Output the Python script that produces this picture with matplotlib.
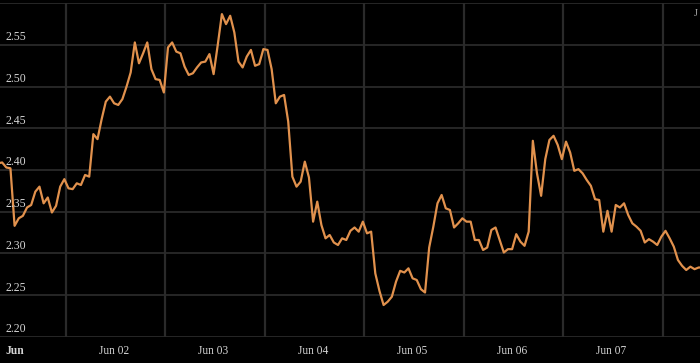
import matplotlib
matplotlib.use("Agg")
import matplotlib.pyplot as plt
import matplotlib.dates as mdates
import matplotlib.transforms as mtransforms
import pandas as pd
import numpy as np

# hourly readings starting 2024-05-31 20:00
start_time = "2024-05-31 20:00"
values = [
    2.408, 2.409, 2.403, 2.402, 2.333, 2.342, 2.345, 2.355, 2.358, 2.374,
    2.380, 2.360, 2.367, 2.349, 2.357, 2.380, 2.389, 2.378, 2.377, 2.384,
    2.382, 2.394, 2.392, 2.443, 2.437, 2.461, 2.482, 2.488, 2.480, 2.478,
    2.485, 2.500, 2.517, 2.553, 2.528, 2.540, 2.553, 2.521, 2.509, 2.508,
    2.493, 2.547, 2.553, 2.542, 2.540, 2.524, 2.514, 2.516, 2.523, 2.529,
    2.530, 2.539, 2.515, 2.550, 2.587, 2.575, 2.585, 2.565, 2.530, 2.523,
    2.536, 2.544, 2.525, 2.527, 2.545, 2.544, 2.521, 2.480, 2.488, 2.490,
    2.458, 2.392, 2.380, 2.386, 2.410, 2.391, 2.338, 2.362, 2.334, 2.318,
    2.322, 2.313, 2.310, 2.318, 2.316, 2.327, 2.331, 2.326, 2.338, 2.324,
    2.326, 2.276, 2.255, 2.238, 2.242, 2.248, 2.266, 2.279, 2.277, 2.282,
    2.270, 2.268, 2.257, 2.253, 2.307, 2.332, 2.360, 2.370, 2.354, 2.352,
    2.331, 2.336, 2.342, 2.338, 2.338, 2.316, 2.316, 2.304, 2.307, 2.328,
    2.331, 2.316, 2.301, 2.305, 2.305, 2.323, 2.314, 2.309, 2.326, 2.435,
    2.396, 2.369, 2.413, 2.436, 2.441, 2.430, 2.413, 2.434, 2.421, 2.399,
    2.401, 2.396, 2.388, 2.381, 2.365, 2.364, 2.326, 2.351, 2.326, 2.358,
    2.355, 2.360, 2.346, 2.336, 2.332, 2.327, 2.313, 2.317, 2.314, 2.310,
    2.320, 2.327, 2.318, 2.308, 2.292, 2.285, 2.280, 2.284, 2.281, 2.283,
    2.283,
]
times = pd.date_range(start_time, periods=len(values), freq="h")

y_ticks = [2.20, 2.25, 2.30, 2.35, 2.40, 2.45, 2.50, 2.55]
day_ticks = pd.date_range("2024-06-01", "2024-06-07", freq="D")
day_labels = ["Jun", "Jun 02", "Jun 03", "Jun 04", "Jun 05", "Jun 06", "Jun 07"]
corner_label = "J"

BG = "#000000"
GRID = "#2a2a2a"
LINE = "#e1914d"
TXT = "#d4d4d4"
FONT = ["Liberation Serif", "DejaVu Serif"]

fig = plt.figure(figsize=(7.0, 3.63), dpi=100, facecolor=BG)
ax = fig.add_axes([0.0, 0.0725, 1.0, 0.9185])
ax.set_facecolor(BG)

ax.plot(times, values, color=LINE, lw=1.6, solid_joinstyle="round", zorder=3)

x0 = pd.Timestamp("2024-06-01") - pd.Timedelta(hours=3.52)
x1 = pd.Timestamp("2024-06-01") + pd.Timedelta(hours=165.32)
ax.set_xlim(x0, x1)
ax.set_ylim(2.20, 2.60)

# grid
for yv in y_ticks + [2.60]:
    ax.axhline(yv, color=GRID, lw=1.3, zorder=1)
for d in day_ticks:
    ax.axvline(d + pd.Timedelta(hours=12.3), color=GRID, lw=1.6, zorder=1)

for s in ax.spines.values():
    s.set_visible(False)
ax.set_yticks([])
ax.set_xticks(day_ticks)
ax.set_xticklabels(day_labels)
ax.tick_params(axis="x", length=0, pad=6, colors=TXT)
for lbl in ax.get_xticklabels():
    lbl.set_fontfamily(FONT)
    lbl.set_fontsize(8.3)
    lbl.set_color(TXT)
ax.get_xticklabels()[0].set_fontweight("bold")

trans = mtransforms.blended_transform_factory(ax.transAxes, ax.transData)
off = mtransforms.offset_copy(trans, fig=fig, x=5, y=1.5, units="dots")
for yv in y_ticks:
    ax.text(0, yv, f"{yv:.2f}", transform=off, ha="left", va="bottom",
            fontsize=8.5, family=FONT, color=TXT, zorder=4)

fig.text(694 / 700, 1 - 14 / 363, corner_label, ha="left", va="center",
         fontsize=7.5, family=FONT, color="#aaaaaa")

fig.savefig("out.png", dpi=100, facecolor=BG)
